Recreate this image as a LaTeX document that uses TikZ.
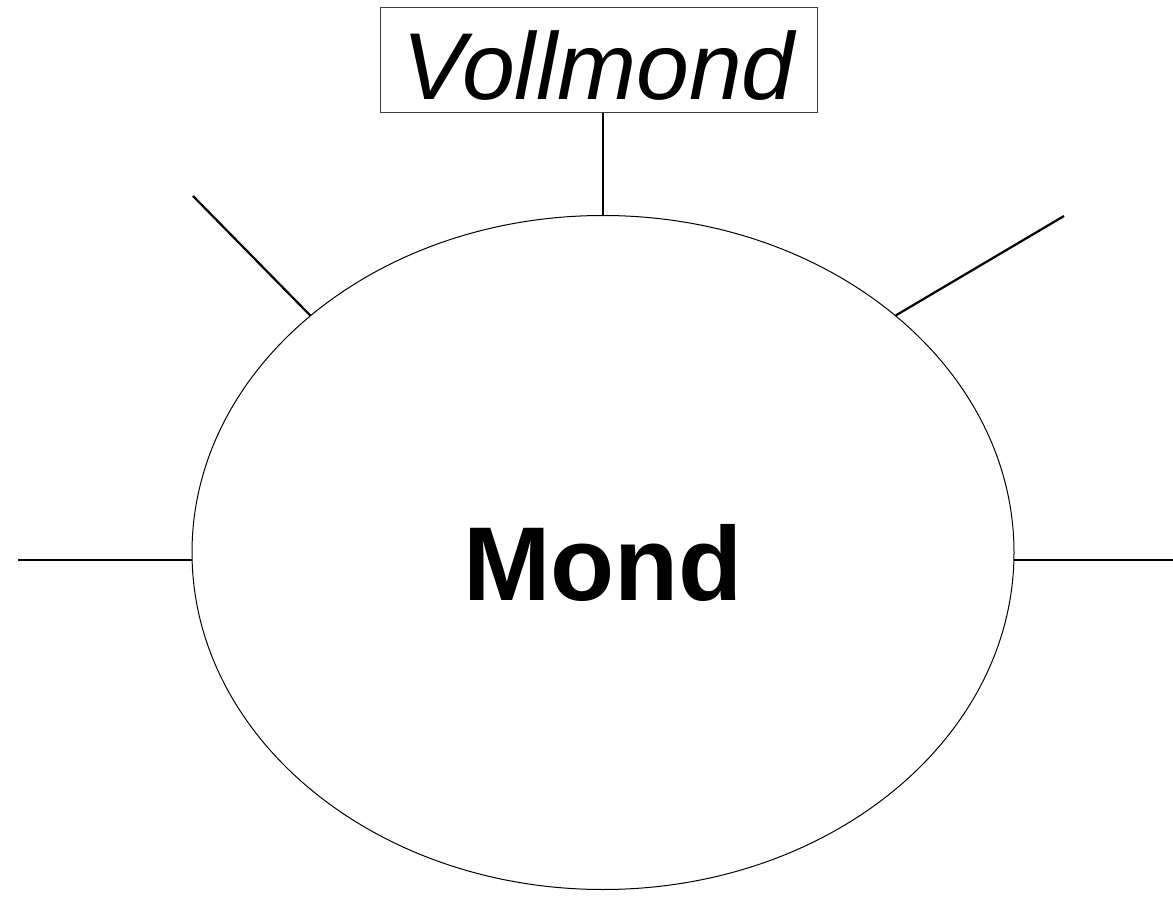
\documentclass[tikz,border=0pt]{standalone}
\usepackage{fontspec}
\setmainfont{Liberation Sans}
\usetikzlibrary{shapes.geometric}
\tikzset{
  conn/.style={line width=2.2pt, black},
  bigell/.style={ellipse, draw, line width=1pt, minimum width=822pt, minimum height=674pt, inner sep=0pt},
  topbox/.style={draw=black!75, line width=1pt, minimum width=437pt, minimum height=105pt, inner sep=0pt, fill=white}
}
\begin{document}
\begin{tikzpicture}[x=1pt,y=-1pt]
\useasboundingbox (0,0) rectangle (1173,901);
\node[bigell] (mond) at (603,552.5) {\fontsize{105pt}{110pt}\selectfont\bfseries\raisebox{-10.5pt}[75pt][0pt]{Mond}};
\node[topbox] (vm) at (598.5,60.5) {\fontsize{95pt}{100pt}\selectfont\itshape\raisebox{-5.5pt}[68pt][0pt]{Vollmond}};
\coordinate (lu) at (193,196);
\coordinate (ru) at (1064,216);
\coordinate (lh) at ({(18,0)} |- mond.181);
\coordinate (rh) at ({(1173,0)} |- mond.-1);
\draw[conn] (vm.south -| mond.north) -- (mond.north);
\draw[conn] (lu) -- (mond.141);
\draw[conn] (ru) -- (mond.39);
\draw[conn] (lh) -- (mond.181);
\draw[conn] (rh) -- (mond.-1);
\end{tikzpicture}
\end{document}
